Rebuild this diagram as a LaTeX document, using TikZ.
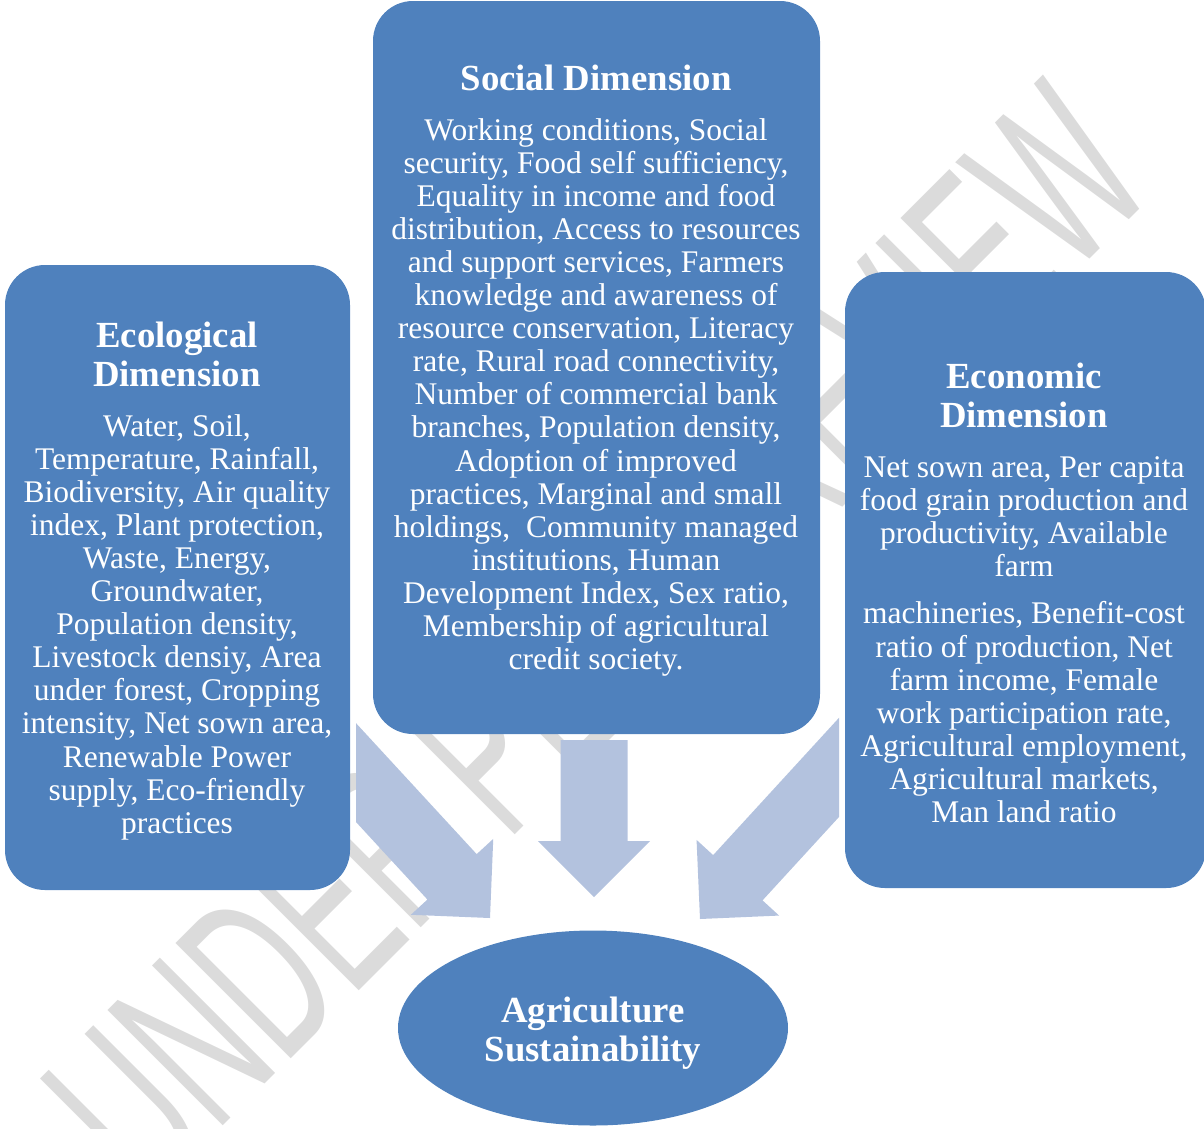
\documentclass[tikz,border=0pt]{standalone}
\usepackage{fontspec}
\setmainfont{Liberation Serif}
\newfontfamily\markfont{Liberation Sans}
\usetikzlibrary{calc,shapes.geometric}
\definecolor{dimblue}{HTML}{4F81BD}
\definecolor{flowblue}{HTML}{B3C2DE}

\begin{document}
\begin{tikzpicture}[x=1pt,y=-1pt,
    dimbox/.style={fill=dimblue,rounded corners=40pt,inner sep=0pt},
    dimtitle/.style={text=white,align=center,inner sep=0pt,anchor=north,
      font=\fontsize{36.8}{39}\selectfont\bfseries},
    dimtext/.style={text=white,align=center,inner sep=0pt,anchor=north,
      font=\fontsize{31.5}{33.1}\selectfont},
    flow/.style={fill=flowblue}]
\useasboundingbox (0,0) rectangle (1204,1128);

% watermark
\node[rotate=45,xscale=0.56,text=black!14,inner sep=0pt,
  font=\markfont\fontsize{237}{237}\selectfont] (mark) at (597,639) {UNDER PEER REVIEW};

% block arrows
\coordinate (ecoT) at (314,727);  \coordinate (ecoH) at (490,918);
\coordinate (socT) at (594,740);  \coordinate (socH) at (594,897);
\coordinate (ecnT) at (876,727);  \coordinate (ecnH) at (700,919);
\begin{scope}
\clip (356,700) rectangle (839,930);
\foreach \t/\h in {ecoT/ecoH, socT/socH, ecnT/ecnH} {
  \coordinate (b) at ($(\h)!56pt!(\t)$);
  \fill[flow] ($(\t)!33.5pt!90:(\h)$) -- ($(b)!33.5pt!90:(\h)$) -- ($(b)!56pt!90:(\h)$)
    -- (\h) -- ($(b)!56pt!-90:(\h)$) -- ($(b)!33.5pt!-90:(\h)$)
    -- ($(\t)!33.5pt!-90:(\h)$) -- cycle;
}
\end{scope}

% boxes
\node[dimbox,minimum width=345pt,minimum height=625pt] (eco) at (177.5,577.5) {};
\node[dimbox,minimum width=447pt,minimum height=733pt] (soc) at (596.5,367.5) {};
\node[dimbox,minimum width=361pt,minimum height=616pt] (ecn) at (1025.5,580) {};

\node[dimtitle] (ecotitle) at (177,322) {Ecological\\Dimension};
\node[dimtext] (ecotext) at (177,414) {Water, Soil,\\Temperature, Rainfall,\\Biodiversity, Air quality\\index, Plant protection,\\Waste, Energy,\\Groundwater,\\Population density,\\Livestock densiy, Area\\under forest, Cropping\\intensity, Net sown area,\\Renewable Power\\supply, Eco-friendly\\practices};

\node[dimtitle] (soctitle) at (596,65) {Social Dimension};
\node[dimtext] (soctext) at (596,118) {Working conditions, Social\\security, Food self sufficiency,\\Equality in income and food\\distribution, Access to resources\\and support services, Farmers\\knowledge and awareness of\\resource conservation, Literacy\\rate, Rural road connectivity,\\Number of commercial bank\\branches, Population density,\\Adoption of improved\\practices, Marginal and small\\holdings,\ \ Community managed\\institutions, Human\\Development Index, Sex ratio,\\Membership of agricultural\\credit society.};

\node[dimtitle] (ecntitle) at (1024,363) {Economic\\Dimension};
\node[dimtext] (ecntext) at (1024,456.5) {Net sown area, Per capita\\food grain production and\\productivity, Available\\farm\\[14pt]machineries, Benefit-cost\\ratio of production, Net\\farm income, Female\\work participation rate,\\Agricultural employment,\\Agricultural markets,\\Man land ratio};

\node[ellipse,fill=dimblue,minimum width=390pt,minimum height=195pt,inner sep=0pt] (sust) at (593,1028) {};
\node[dimtitle] (susttitle) at (593,997) {Agriculture\\Sustainability};
\end{tikzpicture}
\end{document}
